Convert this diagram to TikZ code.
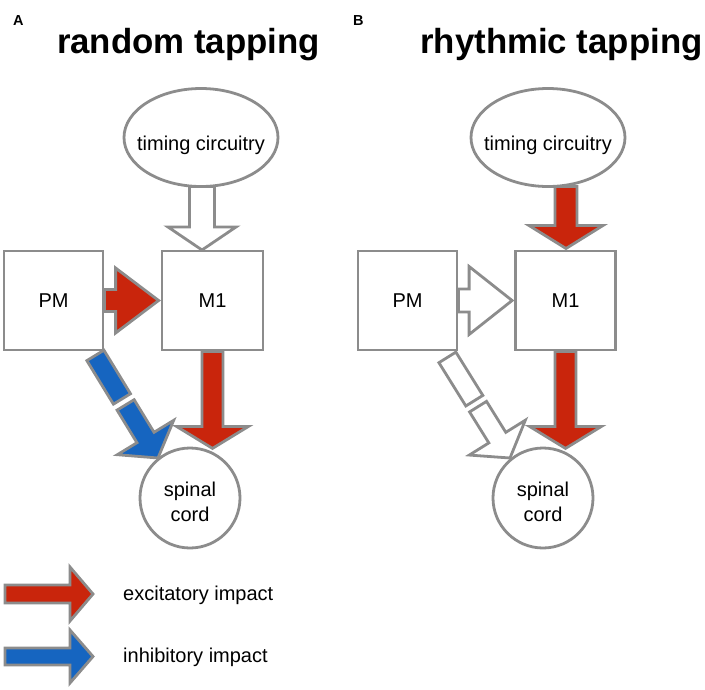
\documentclass[tikz,border=0pt]{standalone}
\usepackage{fontspec}
\setmainfont{Liberation Sans}
\usetikzlibrary{calc,shapes.geometric}
\definecolor{exred}{RGB}{201,37,12}
\definecolor{inblue}{RGB}{22,101,192}
\definecolor{edgegray}{RGB}{140,140,140}
\tikzset{
 box/.style={draw=edgegray,line width=2.8pt,fill=white,minimum width=99pt,minimum height=99pt,inner sep=0pt,font=\fontsize{20}{24}\selectfont},
 oval/.style={ellipse,draw=edgegray,line width=2.8pt,fill=white,minimum width=154pt,minimum height=98pt,inner sep=0pt},
 disc/.style={circle,draw=edgegray,line width=2.8pt,fill=white,minimum size=100pt,inner sep=0pt},
 lbl/.style={font=\fontsize{20}{25}\selectfont,inner sep=0pt},
 titletext/.style={font=\fontsize{34.8}{40}\selectfont\bfseries,anchor=base,inner sep=0pt},
 panel/.style={font=\fontsize{14.5}{17}\selectfont\bfseries,anchor=base west,inner sep=0pt},
 blk/.style={draw=edgegray,line width=2.8pt,line join=miter},
 ax/.style={shift={(\p1)},rotate=\n1},
}
% #1 style, #2 start, #3 end, #4 shaft half width, #5 head half width, #6 head length
\newcommand\blockarrow[6]{%
  \draw[blk,#1] let \p1=(#2),\p2=(#3),\n1={atan2(\y2-\y1,\x2-\x1)},\n2={veclen(\x2-\x1,\y2-\y1)} in
    ([ax]0,-#4) -- ([ax]\n2-#6,-#4) -- ([ax]\n2-#6,-#5) -- ([ax]\n2,0) -- ([ax]\n2-#6,#5) -- ([ax]\n2-#6,#4) -- ([ax]0,#4) -- cycle;}
% #7 end of first piece, #8 start of second piece
\newcommand\brokenarrow[8]{%
  \draw[blk,#1] let \p1=(#2),\p2=(#3),\n1={atan2(\y2-\y1,\x2-\x1)},\n2={veclen(\x2-\x1,\y2-\y1)} in
    ([ax]0,-#4) -- ([ax]#7,-#4) -- ([ax]#7,#4) -- ([ax]0,#4) -- cycle
    ([ax]#8,-#4) -- ([ax]\n2-#6,-#4) -- ([ax]\n2-#6,-#5) -- ([ax]\n2,0) -- ([ax]\n2-#6,#5) -- ([ax]\n2-#6,#4) -- ([ax]#8,#4) -- cycle;}
\begin{document}
\begin{tikzpicture}[x=1pt,y=-1pt]
\useasboundingbox (0,0) rectangle (705,689);
% titles
\node[panel] (lA) at (13,25) {A};
\node[panel] (lB) at (353,25) {B};
\node[titletext] (tA) at (188.5,53) {random tapping};
\node[titletext] (tB) at (561.5,53) {rhythmic tapping};
% panel A nodes
\node[oval,label={[lbl,yshift=-8pt]center:timing circuitry}] (ellA) at (201,137.5) {};
\node[box] (pmA) at (53.5,300.5) {PM};
\node[box,minimum width=101pt] (m1A) at (212.5,300.5) {M1};
\node[disc,label={[lbl,align=center,yshift=-4pt]center:spinal\\cord}] (spA) at (190,498) {};
% panel B nodes
\node[oval,label={[lbl,yshift=-8pt]center:timing circuitry}] (ellB) at (548,137.5) {};
\node[box] (pmB) at (407.5,300.5) {PM};
\node[box,minimum width=100pt] (m1B) at (565.5,300.5) {M1};
\node[disc,label={[lbl,align=center,yshift=-4pt]center:spinal\\cord}] (spB) at (543,498) {};
% arrow end points
\coordinate (a1s) at (202,186.5);
\coordinate (a1e) at (202,250);
\coordinate (a2e) at ($(m1A.west)+(-2,0)$);
\coordinate (a3e) at ($(m1A.south)+(0,97)$);
\coordinate (a4s) at ($(pmA.south east)+(-9,4)$);
\coordinate (a4e) at (158,458);
\coordinate (b1s) at (566,186.5);
\coordinate (b1e) at (566,248.5);
\coordinate (b2e) at ($(m1B.west)+(-2,0)$);
\coordinate (b3e) at ($(m1B.south)+(0,97)$);
\coordinate (b4s) at ($(pmB.south east)+(-11,6)$);
\coordinate (b4e) at (510,458);
% panel A arrows
\blockarrow{fill=white}{a1s}{a1e}{12.5}{34}{23}
\blockarrow{fill=exred}{pmA.east}{a2e}{11}{32.5}{43}
\blockarrow{fill=exred}{m1A.south}{a3e}{10.5}{36}{22}
\brokenarrow{fill=inblue}{a4s}{a4e}{10}{33}{24}{51}{58}
% panel B arrows
\blockarrow{fill=exred}{b1s}{b1e}{11}{37}{23}
\blockarrow{fill=white}{pmB.east}{b2e}{11.5}{34}{43}
\blockarrow{fill=exred}{m1B.south}{b3e}{10.5}{36}{22}
\brokenarrow{fill=white}{b4s}{b4e}{10}{33}{24}{51}{58}
% legend
\coordinate (lr1) at (5,594);
\coordinate (lr2) at (93,594);
\coordinate (lb1) at (5,656.5);
\coordinate (lb2) at (93,656.5);
\blockarrow{fill=exred}{lr1}{lr2}{9}{27}{23}
\blockarrow{fill=inblue}{lb1}{lb2}{8.5}{26.5}{23}
\node[lbl,anchor=base west] (exT) at (123,600) {excitatory impact};
\node[lbl,anchor=base west] (inT) at (123,662) {inhibitory impact};
\end{tikzpicture}
\end{document}
